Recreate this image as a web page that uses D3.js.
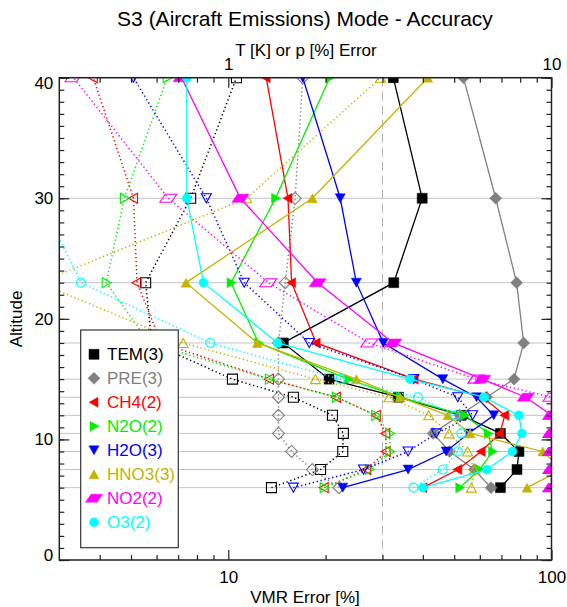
<!DOCTYPE html>
<html>
<head>
<meta charset="utf-8">
<script src="https://cdn.jsdelivr.net/npm/d3@7"></script>
<style>
  body { margin: 0; background: #fff; }
  svg { font-family: "Liberation Sans", Arial, sans-serif; }
</style>
</head>
<body>
<svg id="chart" width="567" height="607"></svg>
<script>
// retrieval altitudes [km]
const altitudes = [6, 7.5, 9, 10.5, 12, 13.5, 15, 18, 23, 30, 40];

// T [K] and p [%] errors (top axis), values per altitude
const temTotal = [6.95, 7.82, 7.93, 6.95, 5.26, 3.36, 2.05, 1.48, 3.25, 3.98, 3.24];
const temNoise = [1.36, 1.93, 2.26, 2.27, 2.10, 1.59, 1.03, 0.58, 0.555, 0.765, 1.06];
const preTotal = [6.5, 5.77, 4.84, 4.3, 5.2, 6.3, 7.66, 8.2, 7.8, 6.72, 5.34];
const preNoise = [2.2, 1.82, 1.57, 1.43, 1.43, 1.43, 1.43, 1.43, 1.50, 1.61, 1.70];

// VMR errors [%] (bottom axis)
const ch4Total = [40.0, 51.3, 60.6, 69.2, 71.7, 61.3, 37.6, 18.7, 15.7, 15.3, 13.1];
const ch4Noise = [19.8, 26.8, 30.8, 30.7, 28.7, 21.6, 13.4, 6.2, 5.22, 5.09, 3.82];
const n2oTotal = [52.0, 60.0, 65.7, 63.7, 54.0, 34.0, 23.5, 12.4, 10.2, 14.0, 20.6];
const n2oNoise = [19.8, 27.3, 31.6, 31.6, 28.6, 21.6, 13.4, 5.7, 4.19, 4.77, 6.47];
const h2oTotal = [22.6, 36.0, 47.2, 55.3, 66.3, 58.6, 46.1, 30.2, 24.9, 22.2, 17.0];
const h2oNoise = [15.9, 26.2, 36.0, 44.0, 57.0, 51.3, 37.5, 17.8, 11.2, 8.55, 5.09];
const hno3Total = [84.0, 108.0, 94.0, 56.0, 47.8, 34.0, 24.9, 12.3, 7.4, 18.2, 41.4];
const hno3Noise = [56.5, 57.7, 55.0, 48.2, 41.7, 31.4, 18.6, 7.25, 2.6, 11.4, 29.6];
const no2Total = [100, 100, 100, 100, 100, 83.2, 61.1, 32.4, 18.9, 10.9, 7.17];
const no2Noise = [100, 100, 100, 100, 100, 100, 58.6, 27.3, 13.3, 6.52, 3.32];
const o3Total = [40.0, 63.1, 75.7, 81.0, 79.3, 61.8, 36.5, 14.2, 8.38, 7.44, 7.44];
const o3Noise = [37.4, 46.1, 51.3, 52.6, 50.4, 38.6, 22.2, 8.79, 3.50, 2.6, 2.2];

const legendLabels = ["TEM(3)", "PRE(3)", "CH4(2)", "N2O(2)", "H2O(3)", "HNO3(3)", "NO2(2)", "O3(2)"];

// drawing table: data + style
const species = [
  { name: legendLabels[0], total: temTotal, noise: temNoise, top: true,  color: "#000000", sym: "square" },
  { name: legendLabels[1], total: preTotal, noise: preNoise, top: true,  color: "#808080", sym: "diamond" },
  { name: legendLabels[2], total: ch4Total, noise: ch4Noise, top: false, color: "#ff0000", sym: "left" },
  { name: legendLabels[3], total: n2oTotal, noise: n2oNoise, top: false, color: "#00ee00", sym: "right" },
  { name: legendLabels[4], total: h2oTotal, noise: h2oNoise, top: false, color: "#0000ff", sym: "down" },
  { name: legendLabels[5], total: hno3Total, noise: hno3Noise, top: false, color: "#c4b400", sym: "up" },
  { name: legendLabels[6], total: no2Total, noise: no2Noise, top: false, color: "#ff00ff", sym: "para" },
  { name: legendLabels[7], total: o3Total, noise: o3Noise, top: false, color: "#00ffff", sym: "circle" }
];

const symbols = {
  square: "M-5,-5H5V5H-5Z",
  diamond: "M0,-6L6,0L0,6L-6,0Z",
  left: "M-5,0L4,-5L4,5Z",
  right: "M5,0L-4,-5L-4,5Z",
  down: "M0,4.5L-5,-4.5L5,-4.5Z",
  up: "M0,-4.5L-5,4.5L5,4.5Z",
  para: "M-8.5,4L-3,-4L8.5,-4L3,4Z",
  circle: "M4.5,0A4.5,4.5 0 1,1 -4.5,0A4.5,4.5 0 1,1 4.5,0Z"
};

const X0 = 59.3, X1 = 551.5, Y0 = 560, Y1 = 77.7;
const x = d3.scaleLog().domain([3, 100]).range([X0, X1]);
const xTop = d3.scaleLog().domain([0.3, 10]).range([X0, X1]);
const y = d3.scaleLinear().domain([0, 40]).range([Y0, Y1]);

const svg = d3.select("#chart");

svg.append("clipPath").attr("id", "plotclip")
  .append("rect").attr("x", X0).attr("y", Y1).attr("width", X1 - X0).attr("height", Y0 - Y1);

// horizontal grid at retrieval levels
svg.append("g").selectAll("line").data(altitudes).enter().append("line")
  .attr("x1", X0).attr("x2", X1)
  .attr("y1", d => y(d)).attr("y2", d => y(d))
  .attr("stroke", "#c4c4c4").attr("stroke-width", 1);

// 30% reference line
svg.append("line")
  .attr("x1", x(30)).attr("x2", x(30)).attr("y1", Y1).attr("y2", Y0)
  .attr("stroke", "#b4b4b4").attr("stroke-width", 1).attr("stroke-dasharray", "9,5");

const plot = svg.append("g").attr("clip-path", "url(#plotclip)");

species.forEach(s => {
  const sx = s.top ? xTop : x;
  [["noise", false], ["total", true]].forEach(([key, filled]) => {
    const pts = altitudes.map((a, i) => ({ a, v: s[key][i] }));
    plot.append("path").datum(pts)
      .attr("fill", "none").attr("stroke", s.color)
      .attr("stroke-width", filled ? 1.3 : 1.5)
      .attr("stroke-dasharray", filled ? null : "1.3,2.7")
      .attr("d", d3.line().x(d => sx(d.v)).y(d => y(d.a)));
    plot.append("g").selectAll("path").data(pts).enter().append("path")
      .attr("transform", d => `translate(${sx(d.v)},${y(d.a)})`)
      .attr("d", symbols[s.sym])
      .attr("fill", filled ? s.color : "none")
      .attr("stroke", s.color)
      .attr("stroke-width", filled ? 0.5 : 1.1);
  });
});

// axes
function styleAxis(g) {
  g.select(".domain").remove();
  g.selectAll("line").attr("stroke", "#222").attr("stroke-width", 1.2);
  g.selectAll("text").attr("fill", "#000").attr("font-size", 17)
    .attr("font-family", "Liberation Sans, Arial, sans-serif");
}
const minorX = [4, 5, 6, 7, 8, 9, 20, 30, 40, 50, 60, 70, 80, 90];
const minorXTop = minorX.map(d => d / 10);
const minorY = d3.range(0, 41);

svg.append("g").attr("transform", `translate(0,${Y0})`)
  .call(d3.axisBottom(x).tickValues(minorX).tickSize(-5).tickFormat(""))
  .call(styleAxis);
svg.append("g").attr("transform", `translate(0,${Y0})`)
  .call(d3.axisBottom(x).tickValues([10, 100]).tickSize(-10).tickPadding(11).tickFormat(d3.format("d")))
  .call(styleAxis);
svg.append("g").attr("transform", `translate(0,${Y1})`)
  .call(d3.axisTop(xTop).tickValues(minorXTop).tickSize(-5).tickFormat(""))
  .call(styleAxis);
svg.append("g").attr("transform", `translate(0,${Y1})`)
  .call(d3.axisTop(xTop).tickValues([1, 10]).tickSize(-10).tickPadding(8).tickFormat(d3.format("d")))
  .call(styleAxis);
svg.append("g").attr("transform", `translate(${X0},0)`)
  .call(d3.axisLeft(y).tickValues(minorY).tickSize(-5).tickFormat(""))
  .call(styleAxis);
const yAx = svg.append("g").attr("transform", `translate(${X0},0)`)
  .call(d3.axisLeft(y).tickValues([0, 10, 20, 30, 40]).tickSize(-10).tickPadding(6))
  .call(styleAxis);
yAx.selectAll(".tick").filter(d => d === 40).select("text").attr("dy", "0.62em");
yAx.selectAll(".tick").filter(d => d === 0).select("text").attr("dy", "0.0em");
svg.append("g").attr("transform", `translate(${X1},0)`)
  .call(d3.axisRight(y).tickValues(minorY).tickSize(-5).tickFormat(""))
  .call(styleAxis);
svg.append("g").attr("transform", `translate(${X1},0)`)
  .call(d3.axisRight(y).tickValues([0, 10, 20, 30, 40]).tickSize(-10).tickFormat(""))
  .call(styleAxis);

// frame
svg.append("rect").attr("x", X0).attr("y", Y1).attr("width", X1 - X0).attr("height", Y0 - Y1)
  .attr("fill", "none").attr("stroke", "#222").attr("stroke-width", 1.5);

// titles
svg.append("text").attr("x", 305).attr("y", 25.5).attr("text-anchor", "middle")
  .attr("font-size", 21).text("S3 (Aircraft Emissions) Mode - Accuracy");
svg.append("text").attr("x", 306).attr("y", 56).attr("text-anchor", "middle")
  .attr("font-size", 17).text("T [K] or p [%] Error");
svg.append("text").attr("x", 305).attr("y", 603).attr("text-anchor", "middle")
  .attr("font-size", 17).text("VMR Error [%]");
svg.append("text").attr("transform", "translate(22,319) rotate(-90)").attr("text-anchor", "middle")
  .attr("font-size", 17).text("Altitude");

// legend
const lg = svg.append("g");
lg.append("rect").attr("x", 80.7).attr("y", 330).attr("width", 97.6).attr("height", 217.7)
  .attr("fill", "#fff").attr("stroke", "#333").attr("stroke-width", 1.2);
species.forEach((s, i) => {
  const ly = 354.3 + i * 24;
  lg.append("path").attr("transform", `translate(94,${ly})`).attr("d", symbols[s.sym])
    .attr("fill", s.color).attr("stroke", s.color).attr("stroke-width", 0.5);
  lg.append("text").attr("x", 107).attr("y", ly).attr("dy", "0.36em")
    .attr("font-size", 17).attr("fill", s.color).text(s.name);
});
</script>
</body>
</html>
